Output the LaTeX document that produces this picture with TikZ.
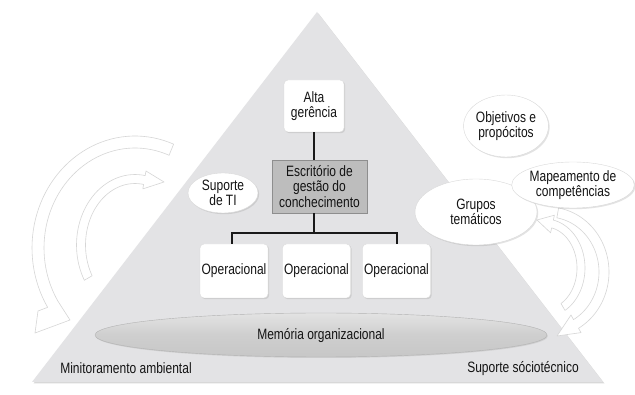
\documentclass[tikz,border=0pt]{standalone}
\usepackage{fontspec}
\setmainfont{Liberation Sans}[FakeStretch=0.8]
\usetikzlibrary{shadows,shapes.geometric}
\definecolor{trifill}{HTML}{E3E3E5}
\definecolor{txt}{HTML}{141414}
\definecolor{escfill}{HTML}{BDBDBD}
\definecolor{escdraw}{HTML}{8E8E8E}
\begin{document}
\begin{tikzpicture}[x=1pt,y=-1pt,
  every node/.style={font=\fontsize{15}{15.5}\selectfont, text=txt, align=center},
  softshadow/.style={drop shadow={opacity=0.22, shadow xshift=1.2pt, shadow yshift=-1.2pt}},
  whitebox/.style={draw=gray!28, fill=white, rounded corners=4pt, inner sep=1pt, softshadow},
  bubble/.style={ellipse, draw=gray!30, fill=white, inner sep=0pt, softshadow},
  conn/.style={line width=2.6pt, black!90},
  ribbon/.style={fill=white, draw=gray!32, line width=0.6pt, line join=round},
  lbl/.style={inner sep=0pt}]
\useasboundingbox (0,0) rectangle (635,395);
\fill[white] (0,0) rectangle (635,395);
% pyramid
\coordinate (apex) at (317,12);
\coordinate (bl) at (32,382);
\coordinate (br) at (603,382);
\fill[trifill, drop shadow={opacity=0.3, shadow xshift=1.5pt, shadow yshift=-1.5pt}] (apex) -- (br) -- (bl) -- cycle;
% circular arrows, left
\path[ribbon] plot[domain=-68:-212, samples=50] ({135+103*cos(\x)},{248+112*sin(\x)})
  -- (38,311) -- (35,333) -- (70,320)
  -- plot[domain=-212:-68, samples=50] ({135+91*cos(\x)},{248+100*sin(\x)}) -- cycle;
\path[ribbon] plot[domain=150:280, samples=40] ({135+58.5*cos(\x)},{245+70.5*sin(\x)})
  -- (146,171) -- (164,182) -- (142.8,188.9)
  -- plot[domain=280:150, samples=40] ({135+49.5*cos(\x)},{245+61.5*sin(\x)}) -- cycle;
% circular arrows, right
\path[ribbon] plot[domain=-80:60, samples=50] ({548+61*cos(\x)},{272+65*sin(\x)})
  -- (581,332.6) -- (557,336) -- (571,315)
  -- plot[domain=60:-80, samples=50] ({548+51*cos(\x)},{272+55*sin(\x)}) -- cycle;
\path[ribbon] plot[domain=60:-78, samples=40] ({545+40*cos(\x)},{268+49*sin(\x)})
  -- (554.4,215.2) -- (537,220) -- (550.6,232.8)
  -- plot[domain=-78:60, samples=40] ({545+32*cos(\x)},{268+41*sin(\x)}) -- cycle;
% memory ellipse
\node[ellipse, minimum width=452pt, minimum height=44pt, inner sep=0pt, draw=gray!60,
  top color=gray!22, bottom color=gray!44, middle color=gray!38,
  drop shadow={opacity=0.2, shadow xshift=0.8pt, shadow yshift=-1pt}] (mem) at (321,335) {};
\node[lbl] (memtxt) at (321,336) {Memória organizacional};
% boxes
\node[whitebox, minimum width=60pt, minimum height=52pt] (alta) at (314,106) {Alta\\gerência};
\node[draw=escdraw, fill=escfill, line width=0.8pt, minimum width=95pt, minimum height=53pt, inner sep=1pt,
  drop shadow={opacity=0.25, shadow xshift=1.2pt, shadow yshift=-1.2pt}] (esc) at (319.5,186.5)
  {Escritório de\\gestão do\\conchecimento};
\node[whitebox, minimum width=68pt, minimum height=54pt] (op1) at (234,271) {Operacional};
\node[whitebox, minimum width=68pt, minimum height=54pt] (op2) at (316.5,271) {Operacional};
\node[whitebox, minimum width=68pt, minimum height=54pt] (op3) at (396.5,271) {Operacional};
% connectors
\coordinate (j) at (314,233);
\coordinate (op1t) at (232,244);
\coordinate (op3t) at (397,244);
\draw[conn] (alta.south -| j) -- (esc.north -| j);
\draw[conn] (esc.south -| j) -- (j);
\draw[conn] (op1t) |- (j) -| (op3t);
% bubbles
\node[bubble, minimum width=70pt, minimum height=40pt] (ti) at (223,193) {Suporte\\de TI};
\node[bubble, minimum width=122pt, minimum height=66pt] (grp) at (476,212) {Grupos\\temáticos};
\node[bubble, minimum width=58pt, minimum height=62pt] (obj) at (506,126) {Objetivos e\\propócitos};
\node[bubble, minimum width=88pt, minimum height=46pt] (map) at (573,185) {Mapeamento de\\competências};
% labels
\node[lbl] (lblL) at (126,368) {Minitoramento ambiental};
\node[lbl] (lblR) at (523,369) {Suporte sóciotécnico};
\end{tikzpicture}
\end{document}
